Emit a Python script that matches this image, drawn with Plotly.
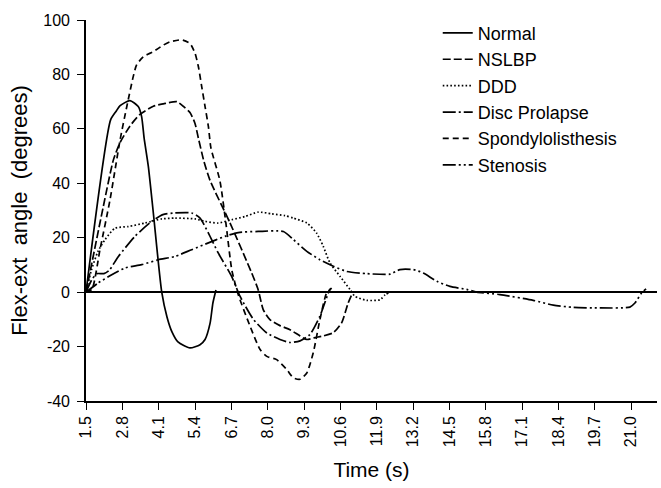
import plotly.graph_objects as go

# ---- data (time in s, flex-ext angle in degrees) ----
normal_t = [1.50, 2.38, 2.58, 2.72, 3.07, 3.37, 3.49, 3.58, 3.73, 3.91, 4.21, 4.40, 4.58, 4.79, 5.22, 5.58, 5.76, 5.94, 6.04, 6.15]
normal_v = [0, 63.3, 66.5, 68.5, 70.4, 68.2, 64.5, 56.6, 46.2, 29.0, 0, -9.2, -14.7, -18.3, -20.5, -19.3, -17.4, -11.4, -4.0, 0.8]

nslbp_t = [1.50, 2.12, 2.48, 2.72, 3.07, 3.43, 3.91, 4.27, 4.75, 4.98, 5.22, 5.40, 5.52, 5.72, 5.94, 6.65, 7.43, 7.66, 7.84, 8.08, 8.44, 8.80, 9.16, 9.40, 9.69, 9.99, 10.35, 10.65, 10.88, 11.06]
nslbp_v = [0, 31.5, 48.6, 55, 61, 65.3, 68.3, 69.2, 70, 68.3, 66, 62, 56.6, 48, 41, 25.5, 7, 0.9, -6.4, -10.1, -12.3, -13.8, -16.1, -17.4, -16.7, -16.1, -14.9, -11.2, -4, 0.3]

ddd_t = [1.50, 1.70, 1.93, 2.18, 2.54, 3.01, 3.61, 4.21, 4.68, 5.40, 5.76, 6.23, 6.71, 7.19, 7.66, 8.14, 8.62, 8.92, 9.40, 9.75, 9.99, 10.23, 10.59, 10.95, 11.12, 11.54, 12.02, 12.20, 12.32]
ddd_v = [0, 8.3, 15, 19.3, 23.5, 24.1, 25.4, 26.9, 27.2, 26.9, 26, 25.4, 26.6, 27.8, 29.4, 28.8, 28.1, 27.2, 25.4, 21.7, 16.8, 10.7, 5.8, 0.9, -1.5, -3, -2.8, -1, -0.3]

disc_t = [1.50, 1.71, 1.89, 2.14, 2.32, 2.66, 3.25, 3.85, 4.25, 4.68, 5.28, 5.58, 5.88, 6.23, 6.71, 7.01, 7.49, 7.97, 8.44, 8.80, 9.16, 9.51, 9.87, 10.17, 10.26]
disc_v = [0, 4.6, 6.8, 6.8, 7.9, 13.1, 20.5, 26, 28.5, 29.1, 29.1, 27.2, 21.7, 14.4, 5.8, -1.5, -10, -15, -17.4, -18.5, -17.9, -15.6, -8.8, -0.3, 1.5]

spondy_t = [1.50, 1.71, 2.00, 2.36, 2.72, 2.96, 3.19, 3.31, 3.55, 3.91, 4.27, 4.51, 4.92, 5.22, 5.40, 5.52, 5.64, 5.76, 5.88, 5.97, 6.29, 6.51, 6.72, 6.95, 7.37, 7.73, 7.97, 8.32, 8.68, 8.92, 9.16, 9.40, 9.63, 9.87, 10.11, 10.29]
spondy_v = [0, 1, 15.6, 34, 56, 68.2, 79.2, 83.5, 86.5, 88.4, 90.8, 92, 92.7, 91.4, 87.8, 82.9, 75.5, 68.2, 60.8, 53, 41, 25, 8, -1, -12.5, -21.1, -23.6, -24.8, -28.4, -31.5, -32, -29.7, -22.3, -10.1, -0.3, 1.5]

sten_t = [1.50, 1.94, 2.42, 2.90, 3.49, 4.09, 4.68, 5.28, 5.88, 6.47, 6.95, 7.66, 8.56, 8.92, 9.40, 9.87, 10.35, 10.83, 11.54, 12.38, 12.73, 13.21, 13.57, 14.05, 14.52, 15.12, 15.48, 16.31, 17.50, 18.22, 18.94, 19.89, 20.96, 21.14, 21.38, 21.54]
sten_v = [0, 3.4, 6.4, 8.9, 10.1, 11.9, 13.1, 15.6, 18.1, 20.5, 21.9, 22.3, 22.3, 19.3, 15, 11.9, 9.5, 7.6, 6.8, 6.6, 8.3, 8.3, 7, 4, 2.1, 1, 0, -0.9, -3, -4.8, -5.6, -5.8, -5.5, -4, -0.3, 1.2]

series_names = ["Normal", "NSLBP", "DDD", "Disc Prolapse", "Spondylolisthesis", "Stenosis"]
series_t = [normal_t, nslbp_t, ddd_t, disc_t, spondy_t, sten_t]
series_v = [normal_v, nslbp_v, ddd_v, disc_v, spondy_v, sten_v]
series_dash = ["solid", "8px,3px", "1.6px,2.2px", "13px,3px,2px,3px", "6px,4px", "13px,3px,2px,3px,2px,3px"]

x_tickvals = [1.5, 2.8, 4.1, 5.4, 6.7, 8.0, 9.3, 10.6, 11.9, 13.2, 14.5, 15.8, 17.1, 18.4, 19.7, 21.0]
x_ticktext = ["1.5", "2.8", "4.1", "5.4", "6.7", "8.0", "9.3", "10.6", "11.9", "13.2", "14.5", "15.8", "17.1", "18.4", "19.7", "21.0"]
y_tickvals = [-40, -20, 0, 20, 40, 60, 80, 100]
y_ticktext = ["-40", "-20", "0", "20", "40", "60", "80", "100"]

FONT = "Liberation Sans, Arial, Helvetica, sans-serif"

fig = go.Figure()
for name, t, v, dash in zip(series_names, series_t, series_v, series_dash):
    fig.add_trace(go.Scatter(
        x=t, y=v, mode="lines", name=name,
        line=dict(color="black", width=1.7, dash=dash, shape="spline", smoothing=0.6),
    ))

fig.update_layout(
    width=661, height=488,
    margin=dict(l=86, r=4, t=20, b=86.5, pad=0),
    paper_bgcolor="white", plot_bgcolor="white",
    font=dict(family=FONT, color="black", size=16),
    showlegend=True,
    legend=dict(
        x=0.616, y=1.014, xanchor="left", yanchor="top",
        font=dict(family=FONT, size=18, color="black"),
        bgcolor="rgba(0,0,0,0)", borderwidth=0, tracegroupgap=0,
    ),
)
fig.update_xaxes(
    range=[1.5, 21.93], tickmode="array", tickvals=x_tickvals, ticktext=x_ticktext,
    tickangle=-90, ticks="outside", ticklen=7, tickwidth=1.3, tickcolor="black",
    showline=True, linecolor="black", linewidth=1.6, showgrid=False, zeroline=False,
    tickfont=dict(family=FONT, size=16),
    title=dict(text="Time (s)", font=dict(family=FONT, size=21), standoff=16),
)
fig.update_yaxes(
    range=[-40, 100], tickmode="array", tickvals=y_tickvals, ticktext=y_ticktext,
    ticks="outside", ticklen=7, tickwidth=1.3, tickcolor="black",
    showline=True, linecolor="black", linewidth=1.6, showgrid=False,
    zeroline=True, zerolinecolor="black", zerolinewidth=2,
    tickfont=dict(family=FONT, size=16), ticklabelstandoff=4,
    title=dict(text="Flex-ext\u00a0\u00a0angle\u00a0\u00a0(degrees)", font=dict(family=FONT, size=22), standoff=10),
)

fig.write_html("out.html")
